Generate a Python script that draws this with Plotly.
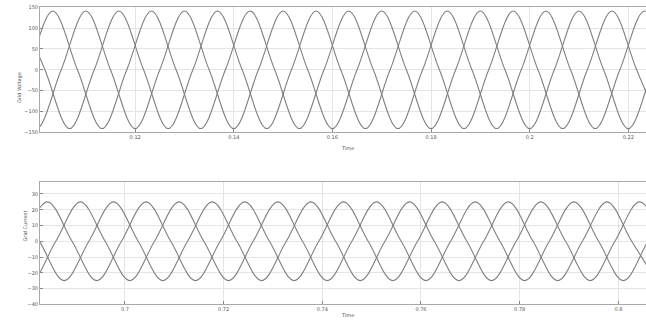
import plotly.graph_objects as go
from plotly.subplots import make_subplots

# grid voltage, three phases (peaks / zero crossings)
va_t = [0.0950, 0.1000, 0.1050, 0.1100, 0.1150, 0.1200, 0.1250, 0.1300, 0.1350, 0.1400,
        0.1450, 0.1500, 0.1550, 0.1600, 0.1650, 0.1700, 0.1750, 0.1800, 0.1850, 0.1900,
        0.1950, 0.2000, 0.2050, 0.2100, 0.2150, 0.2200, 0.2250, 0.2300]
va_v = [0, -141, 0, 141, 0, -141, 0, 141, 0, -141,
        0, 141, 0, -141, 0, 141, 0, -141, 0, 141,
        0, -141, 0, 141, 0, -141, 0, 141]

vb_t = [0.0967, 0.1017, 0.1067, 0.1117, 0.1167, 0.1217, 0.1267, 0.1317, 0.1367, 0.1417,
        0.1467, 0.1517, 0.1567, 0.1617, 0.1667, 0.1717, 0.1767, 0.1817, 0.1867, 0.1917,
        0.1967, 0.2017, 0.2067, 0.2117, 0.2167, 0.2217, 0.2267]
vb_v = [141, 0, -141, 0, 141, 0, -141, 0, 141, 0,
        -141, 0, 141, 0, -141, 0, 141, 0, -141, 0,
        141, 0, -141, 0, 141, 0, -141]

vc_t = [0.0933, 0.0983, 0.1033, 0.1083, 0.1133, 0.1183, 0.1233, 0.1283, 0.1333, 0.1383,
        0.1433, 0.1483, 0.1533, 0.1583, 0.1633, 0.1683, 0.1733, 0.1783, 0.1833, 0.1883,
        0.1933, 0.1983, 0.2033, 0.2083, 0.2133, 0.2183, 0.2233, 0.2283]
vc_v = [-141, 0, 141, 0, -141, 0, 141, 0, -141, 0,
        141, 0, -141, 0, 141, 0, -141, 0, 141, 0,
        -141, 0, 141, 0, -141, 0, 141, 0]

# grid current, three phases (lower plot)
ia_t = [0.6793, 0.6843, 0.6893, 0.6943, 0.6993, 0.7043, 0.7093, 0.7143, 0.7193, 0.7243,
        0.7293, 0.7343, 0.7393, 0.7443, 0.7493, 0.7543, 0.7593, 0.7643, 0.7693, 0.7743,
        0.7793, 0.7843, 0.7893, 0.7943, 0.7993, 0.8043, 0.8093]
ia_v = [0, 25, 0, -25, 0, 25, 0, -25, 0, 25,
        0, -25, 0, 25, 0, -25, 0, 25, 0, -25,
        0, 25, 0, -25, 0, 25, 0]

ib_t = [0.6760, 0.6810, 0.6860, 0.6910, 0.6960, 0.7010, 0.7060, 0.7110, 0.7160, 0.7210,
        0.7260, 0.7310, 0.7360, 0.7410, 0.7460, 0.7510, 0.7560, 0.7610, 0.7660, 0.7710,
        0.7760, 0.7810, 0.7860, 0.7910, 0.7960, 0.8010, 0.8060, 0.8110]
ib_v = [0, -25, 0, 25, 0, -25, 0, 25, 0, -25,
        0, 25, 0, -25, 0, 25, 0, -25, 0, 25,
        0, -25, 0, 25, 0, -25, 0, 25]

ic_t = [0.6777, 0.6827, 0.6877, 0.6927, 0.6977, 0.7027, 0.7077, 0.7127, 0.7177, 0.7227,
        0.7277, 0.7327, 0.7377, 0.7427, 0.7477, 0.7527, 0.7577, 0.7627, 0.7677, 0.7727,
        0.7777, 0.7827, 0.7877, 0.7927, 0.7977, 0.8027, 0.8077]
ic_v = [25, 0, -25, 0, 25, 0, -25, 0, 25, 0,
        -25, 0, 25, 0, -25, 0, 25, 0, -25, 0,
        25, 0, -25, 0, 25, 0, -25]

v_ticks = [-150, -100, -50, 0, 50, 100, 150]
i_ticks = [-40, -30, -20, -10, 0, 10, 20, 30]
t1_ticks = [0.12, 0.14, 0.16, 0.18, 0.2, 0.22]
t1_text = ["0.12", "0.14", "0.16", "0.18", "0.2", "0.22"]
t2_ticks = [0.7, 0.72, 0.74, 0.76, 0.78, 0.8]
t2_text = ["0.7", "0.72", "0.74", "0.76", "0.78", "0.8"]

W, H = 646, 326
L = 40  # left margin in px
LINE = "#808080"
FONT = dict(family="DejaVu Sans", size=5, color="#555555")

fig = make_subplots(rows=2, cols=1)
for t, v in [(va_t, va_v), (vb_t, vb_v), (vc_t, vc_v)]:
    fig.add_trace(go.Scatter(x=t, y=v, mode="lines", line=dict(color=LINE, width=1.1, shape="spline", smoothing=1.0),
                             showlegend=False, hoverinfo="skip"), row=1, col=1)
for t, v in [(ia_t, ia_v), (ib_t, ib_v), (ic_t, ic_v)]:
    fig.add_trace(go.Scatter(x=t, y=v, mode="lines", line=dict(color=LINE, width=1.1, shape="spline", smoothing=1.0),
                             showlegend=False, hoverinfo="skip"), row=2, col=1)

ax = dict(showline=True, linecolor="#a8a8a8", linewidth=1, mirror=True,
          showgrid=True, gridcolor="#e4e4e4", gridwidth=1, zeroline=False,
          ticks="inside", ticklen=3, tickcolor="#888", tickfont=FONT, automargin=False)

fig.update_layout(
    width=W, height=H, margin=dict(l=L, r=0, t=0, b=0),
    paper_bgcolor="white", plot_bgcolor="white",
    xaxis=dict(ax, domain=[0, 1], range=[0.1007, 0.2236],
               tickvals=t1_ticks, ticktext=t1_text),
    yaxis=dict(ax, domain=[1 - 132.3 / H, 1 - 7.3 / H], range=[-150, 150], tickvals=v_ticks),
    xaxis2=dict(ax, domain=[0, 1], range=[0.6828, 0.8056],
                tickvals=t2_ticks, ticktext=t2_text),
    yaxis2=dict(ax, domain=[1 - 304.3 / H, 1 - 181.7 / H], range=[-40, 37.8], tickvals=i_ticks),
)

labels = [("Grid Voltage", 14, 70, -90), ("Time", 347, 148, 0),
          ("Grid Current", 19, 243, -90), ("Time", 347, 320, 0)]
for txt, px, py, ang in labels:
    fig.add_annotation(text=txt, x=(px - L) / (W - L), y=1 - py / H, xref="paper", yref="paper",
                       showarrow=False, textangle=ang, font=FONT)

# page body has a default 8px margin; drop it so the figure sits at (0, 0)
fig.write_html("out.html", config={"displayModeBar": False},
               post_script="document.body.style.margin='0';")
